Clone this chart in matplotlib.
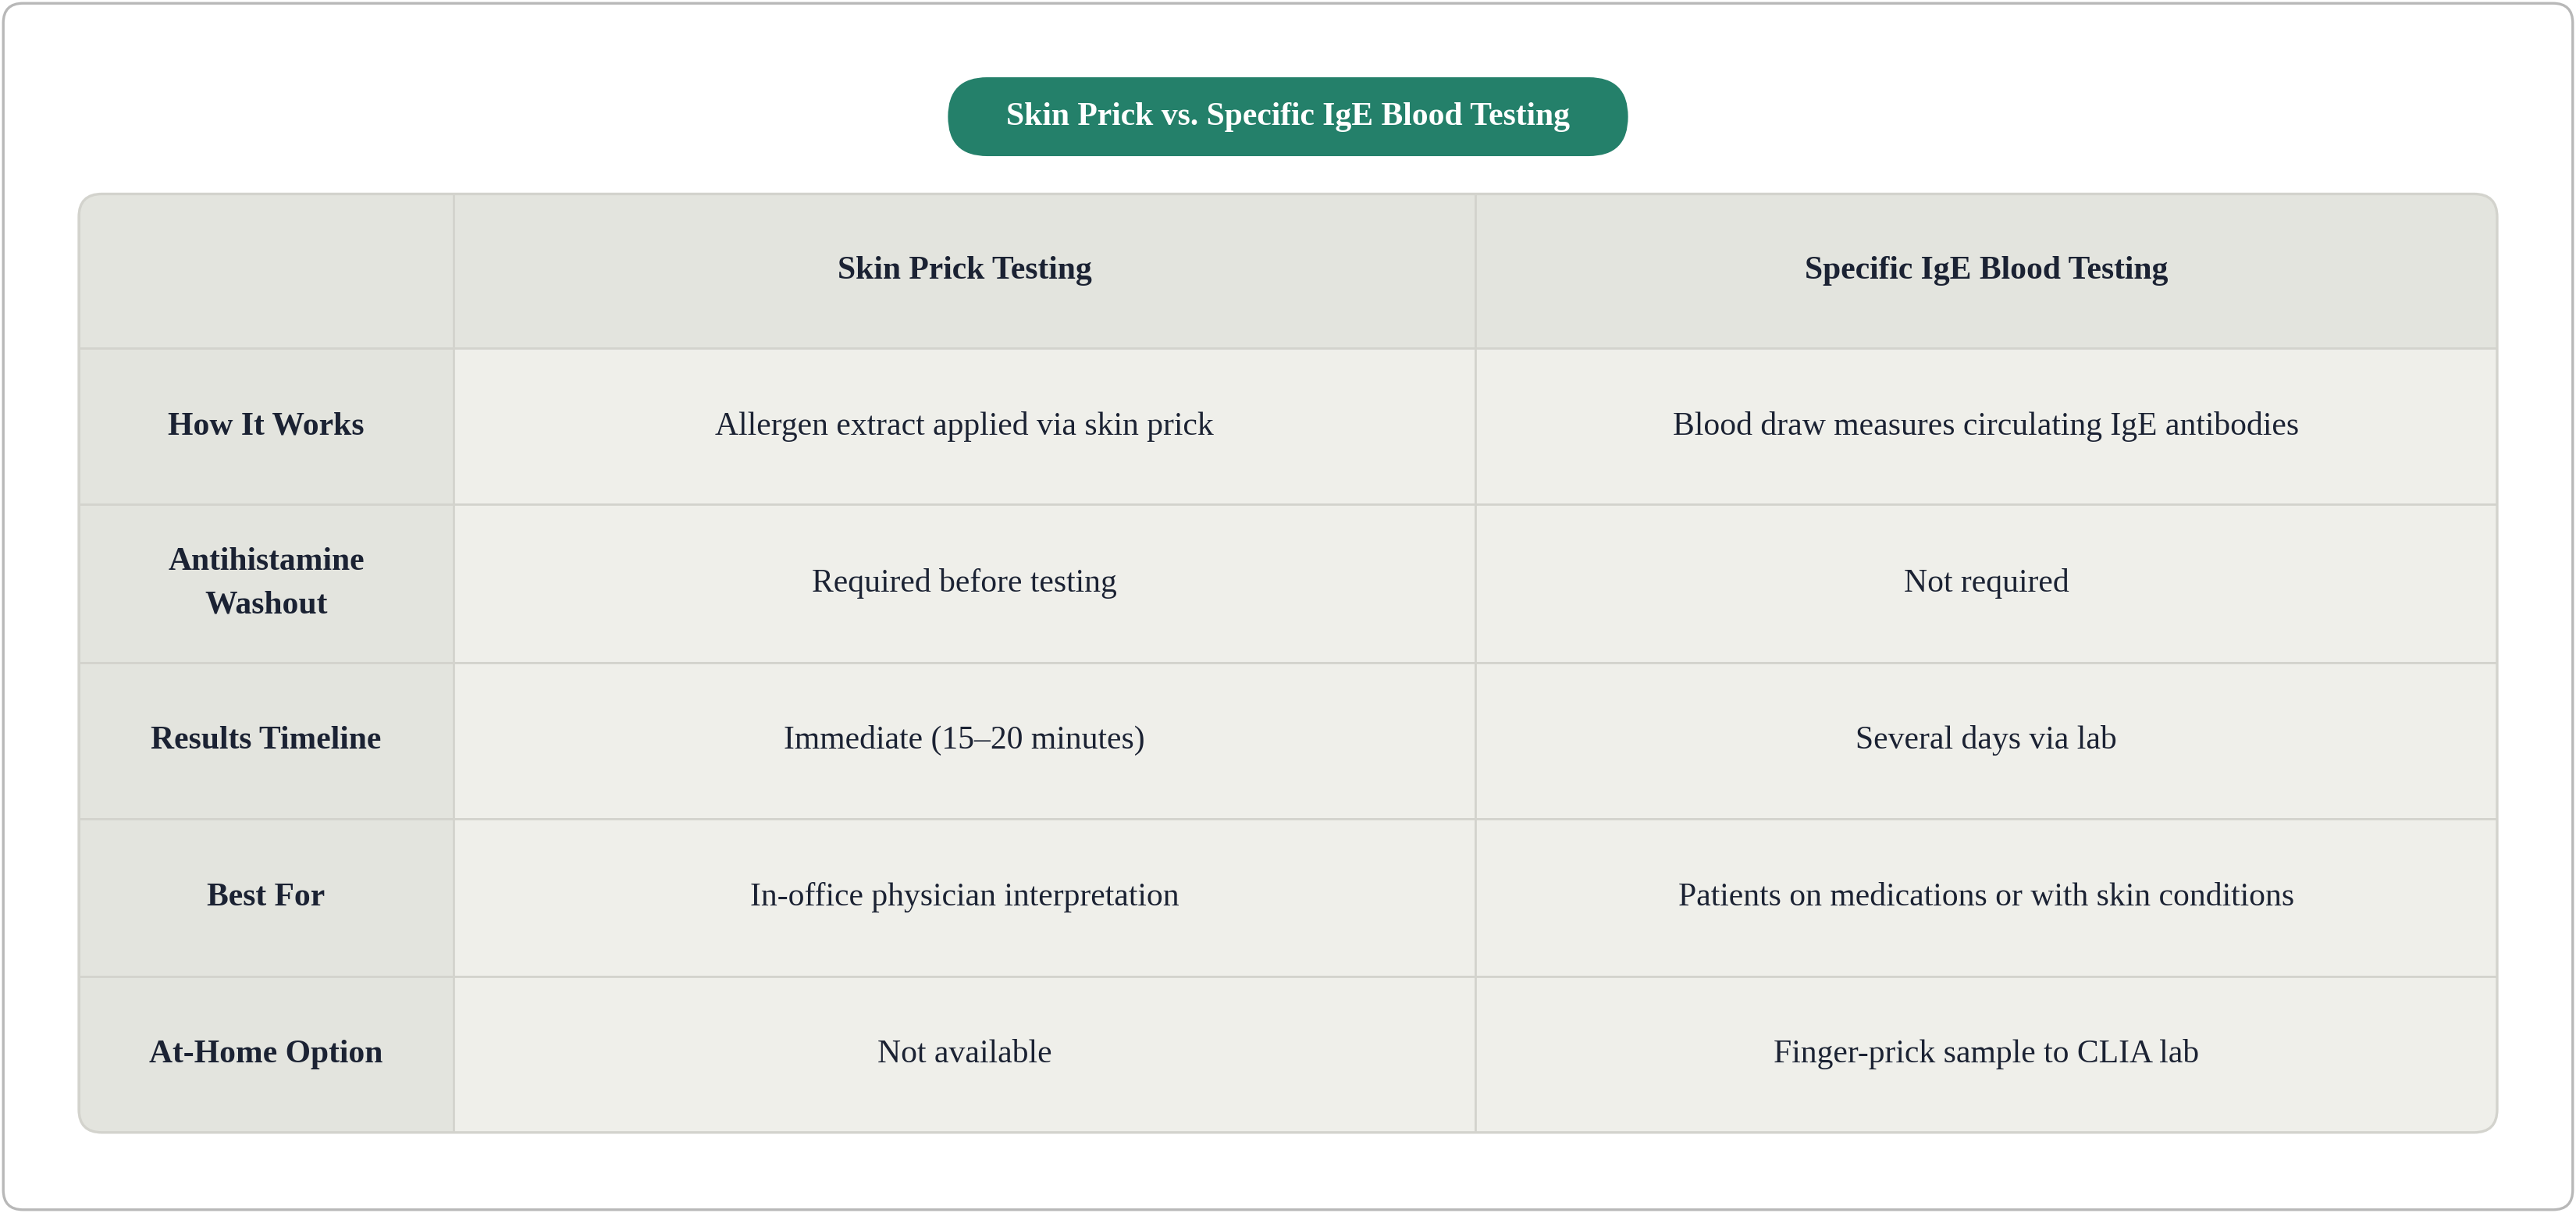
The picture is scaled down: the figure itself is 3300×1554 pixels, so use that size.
import matplotlib.pyplot as plt
from matplotlib.patches import FancyBboxPatch, Rectangle

title = "Skin Prick vs. Specific IgE Blood Testing"
columns = ["", "Skin Prick Testing", "Specific IgE Blood Testing"]
row_labels = ["How It Works", "Antihistamine\nWashout", "Results Timeline", "Best For", "At-Home Option"]
skin_prick = [
    "Allergen extract applied via skin prick",
    "Required before testing",
    "Immediate (15\u201320 minutes)",
    "In-office physician interpretation",
    "Not available",
]
blood_test = [
    "Blood draw measures circulating IgE antibodies",
    "Not required",
    "Several days via lab",
    "Patients on medications or with skin conditions",
    "Finger-prick sample to CLIA lab",
]

W, H = 1568, 738
fig = plt.figure(figsize=(16.5, 7.77), dpi=200)
ax = fig.add_axes([0, 0, 1, 1])
ax.set_xlim(0, W)
ax.set_ylim(H, 0)
ax.axis("off")

serif = ["Liberation Serif", "DejaVu Serif"]
ink = "#1b2233"
line = "#d3d3cd"

ax.add_patch(FancyBboxPatch((2, 2), W - 4, H - 4, boxstyle="round,pad=0,rounding_size=12",
                            fc="white", ec="#b8b8b8", lw=1.2))

# title pill
ax.add_patch(FancyBboxPatch((577, 47), 414, 48, boxstyle="round,pad=0,rounding_size=24",
                            fc="#24806a", ec="none"))
ax.text(784, 71, title, ha="center", va="center", color="white", fontsize=15,
        fontweight="bold", family=serif)

col_x = [48, 276, 898, 1520]
row_y = [118, 212, 307, 403, 498, 594, 689]

frame = FancyBboxPatch((col_x[0], row_y[0]), col_x[-1] - col_x[0], row_y[-1] - row_y[0],
                       boxstyle="round,pad=0,rounding_size=14", fc="#efefea", ec="none")
ax.add_patch(frame)

header_fc = "#e3e4de"
for r in range(len(row_y) - 1):
    for c in range(len(col_x) - 1):
        fc = header_fc if (r == 0 or c == 0) else "#efefea"
        rect = Rectangle((col_x[c], row_y[r]), col_x[c + 1] - col_x[c], row_y[r + 1] - row_y[r],
                         fc=fc, ec=line, lw=1.0)
        ax.add_patch(rect)
        rect.set_clip_path(frame)

ax.add_patch(FancyBboxPatch((col_x[0], row_y[0]), col_x[-1] - col_x[0], row_y[-1] - row_y[0],
                            boxstyle="round,pad=0,rounding_size=14", fc="none", ec=line, lw=1.2))

def cx(c):
    return (col_x[c] + col_x[c + 1]) / 2

def cy(r):
    return (row_y[r] + row_y[r + 1]) / 2

for c in (1, 2):
    ax.text(cx(c), cy(0), columns[c], ha="center", va="center", color=ink, fontsize=15,
            fontweight="bold", family=serif)

for i, lab in enumerate(row_labels):
    r = i + 1
    ax.text(cx(0), cy(r), lab, ha="center", va="center", color=ink, fontsize=15,
            fontweight="bold", family=serif, linespacing=1.6)
    ax.text(cx(1), cy(r), skin_prick[i], ha="center", va="center", color=ink, fontsize=15, family=serif)
    ax.text(cx(2), cy(r), blood_test[i], ha="center", va="center", color=ink, fontsize=15, family=serif)

fig.savefig("out.png", dpi=200, facecolor="white")
